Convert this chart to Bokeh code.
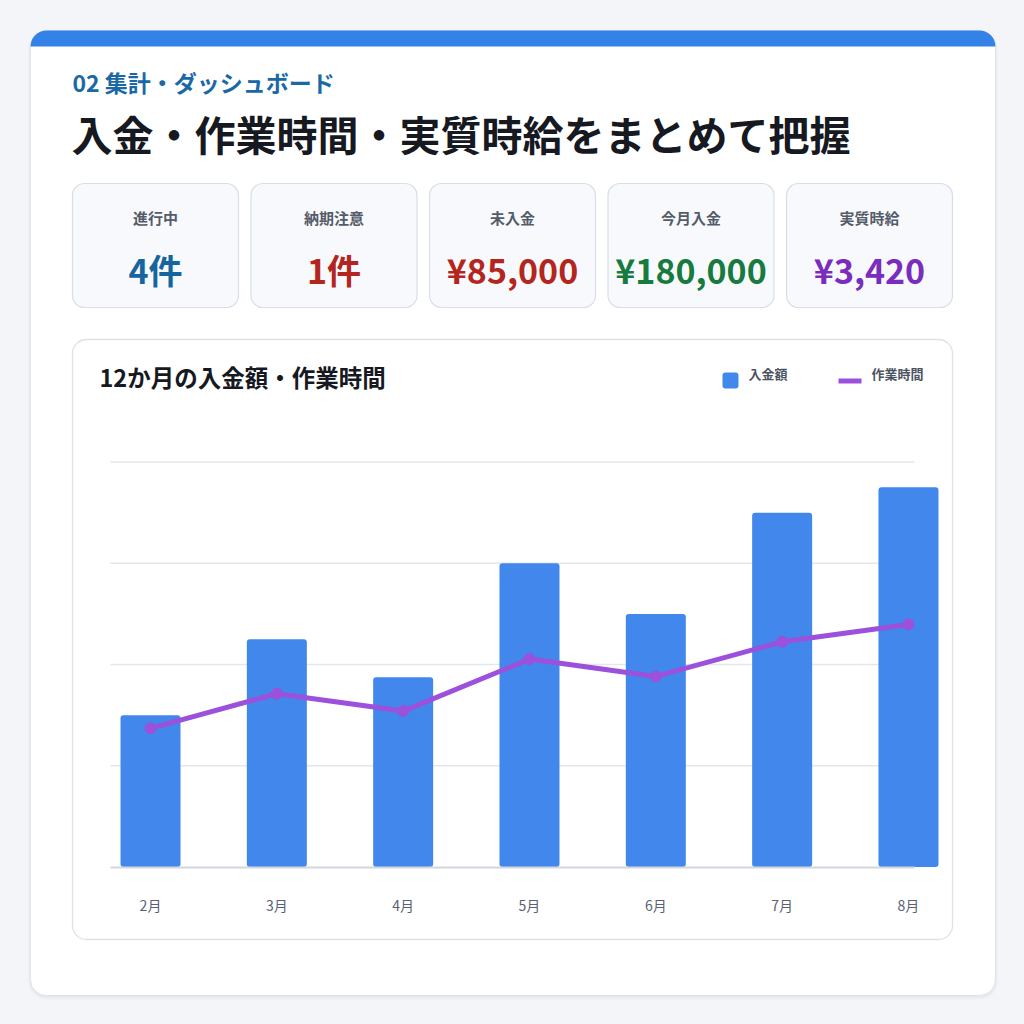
from bokeh.plotting import figure
from bokeh.models import Range1d, LinearAxis, FixedTicker
from bokeh.core.properties import value
from bokeh.embed import file_html
from bokeh.resources import INLINE

# ---------------- data ----------------
months = ["2月", "3月", "4月", "5月", "6月", "7月", "8月"]
income = [60000, 90000, 75000, 120000, 100000, 140000, 150000]   # 入金額 (円)
hours = [40, 50, 45, 60, 55, 65, 70]                                # 作業時間 (h)
grid_values = [40000, 80000, 120000, 160000]

kpi_labels = ["進行中", "納期注意", "未入金", "今月入金", "実質時給"]
kpi_values = ["4件", "1件", "¥85,000", "¥180,000", "¥3,420"]

subtitle = "02 集計・ダッシュボード"
title = "入金・作業時間・実質時給をまとめて把握"
chart_title = "12か月の入金額・作業時間"
legend_labels = ["入金額", "作業時間"]

# ---------------- style ----------------
FONT = "Noto Sans CJK JP"
PAGE_BG = "#f3f5f9"
BLUE_BAR = "#4287eb"
PURPLE = "#9b51db"
kpi_colors = ["#17659f", "#b3261e", "#b3261e", "#177a3e", "#7a2cbd"]

W = H = 1008
OFF = 0  # page offset of the canvas


def X(px):  # image x -> canvas data x
    return px - OFF


def Y(py):  # image y -> canvas data y (upwards)
    return H + OFF - py


# chart geometry (image pixels)
BAR0_PX, BAR_STEP = 150.0, 126.33
BASE_PX, GRID_TOP_PX = 866.5, 461.5
GRID_L_PX, GRID_R_PX = 110.0, 914.0
HOUR_K = 3.465  # px per hour
inc_k = (BASE_PX - GRID_TOP_PX) / grid_values[-1]

bx = Range1d((OFF - BAR0_PX) / BAR_STEP, (W + OFF - BAR0_PX) / BAR_STEP)
inc = Range1d((BASE_PX - (H + OFF)) / inc_k, (BASE_PX - OFF) / inc_k)
hrs = Range1d((BASE_PX - (H + OFF)) / HOUR_K, (BASE_PX - OFF) / HOUR_K)

p = figure(width=W, height=H, x_range=Range1d(0, W), y_range=Range1d(0, H),
           output_backend="svg", toolbar_location=None,
           x_axis_type=None, y_axis_type=None, min_border=0,
           background_fill_color=PAGE_BG, border_fill_color=PAGE_BG,
           outline_line_color=None)
p.extra_x_ranges = {"bx": bx}
p.extra_y_ranges = {"inc": inc, "hrs": hrs}


def box(x0, y0, x1, y1, fill, line=None, r=0, lw=1, alpha=1.0):
    p.quad(left=[X(x0)], right=[X(x1)], top=[Y(y0)], bottom=[Y(y1)],
           fill_color=fill, fill_alpha=alpha, line_color=line, line_width=lw,
           border_radius=r)


def txt(x, y, s, size, color, bold=True, align="left"):
    p.text(x=[X(x)], y=[Y(y)], text=[s], text_font=value(FONT),
           text_font_size=value(f"{size}px"),
           text_font_style="bold" if bold else "normal",
           text_color=color, text_align=align, text_baseline="middle")


# outer card with soft shadow
box(28, 32, 997, 999, "#000000", r=18, alpha=0.025)
box(29, 31, 996, 997, "#000000", r=17, alpha=0.03)
box(30, 30, 995, 995, "#ffffff", line="#e1e5eb", r=16, lw=1)
box(30, 30, 995, 46, "#3282e8", r=(16, 16, 0, 0))

txt(72, 81, subtitle, 23, "#1b68a6")
txt(71, 132, title, 41, "#16191f")

# KPI cards
for i, (lab, val) in enumerate(zip(kpi_labels, kpi_values)):
    x0 = 72 + i * 178.5
    x1 = x0 + 166
    box(x0, 183, x1, 307, "#f7f9fc", line="#d9dee6", r=12, lw=1.2)
    cx = (x0 + x1) / 2
    txt(cx, 216.5, lab, 15, "#555c69", bold=True, align="center")
    txt(cx, 268.5, val, 34, kpi_colors[i], bold=True, align="center")

# chart card
box(72, 339, 952, 939, "#ffffff", line="#dde1e8", r=14, lw=1.3)
txt(99, 376.5, chart_title, 23.5, "#16191f")

# legend
box(722, 372, 738, 388, BLUE_BAR, r=3)
txt(748, 372.5, legend_labels[0], 13, "#4b5361")
p.segment(x0=[X(838)], y0=[Y(380.5)], x1=[X(861)], y1=[Y(380.5)],
          line_color=PURPLE, line_width=5)
txt(871, 372.5, legend_labels[1], 13, "#4b5361")

# grid lines
gl = (GRID_L_PX - BAR0_PX) / BAR_STEP
gr = (GRID_R_PX - BAR0_PX) / BAR_STEP
p.segment(x0=[gl] * len(grid_values), x1=[gr] * len(grid_values),
          y0=grid_values, y1=grid_values, x_range_name="bx", y_range_name="inc",
          line_color="#e3e6eb", line_width=1.5)

idx = list(range(len(months)))
p.vbar(x=idx, top=income, bottom=0, width=60 / BAR_STEP,
       x_range_name="bx", y_range_name="inc",
       fill_color=BLUE_BAR, line_color=None, border_radius=3)

p.line(x=idx, y=hours, x_range_name="bx", y_range_name="hrs",
       line_color=PURPLE, line_width=5, line_join="round")
p.scatter(x=idx, y=hours, x_range_name="bx", y_range_name="hrs",
          size=11, fill_color=PURPLE, line_color=PURPLE)

xaxis = LinearAxis(x_range_name="bx", ticker=FixedTicker(ticks=idx),
                   major_label_overrides={i: m for i, m in enumerate(months)},
                   fixed_location=Y(BASE_PX), bounds=(gl, gr))
xaxis.axis_line_color = "#d2d7de"
xaxis.axis_line_width = 2
xaxis.major_tick_in = 0
xaxis.major_tick_out = 0
xaxis.minor_tick_in = 0
xaxis.minor_tick_out = 0
xaxis.major_label_standoff = 28
xaxis.major_label_text_font = FONT
xaxis.major_label_text_font_size = "14px"
xaxis.major_label_text_color = "#5a6170"
p.add_layout(xaxis, "below")

html = file_html(p, INLINE).replace("<body>", f'<body style="background:{PAGE_BG}">')
open("out.html", "w").write(html)
